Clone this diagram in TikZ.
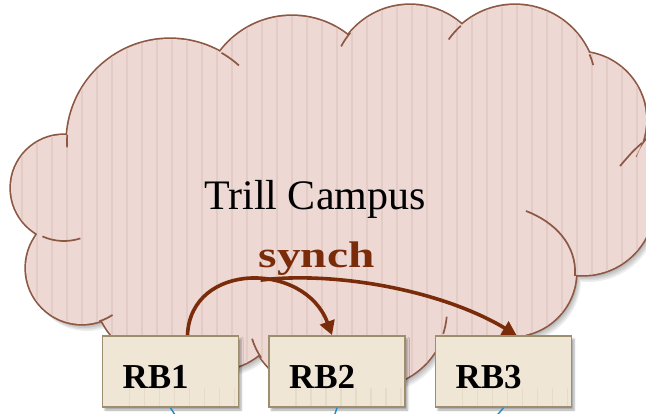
\documentclass[tikz,border=0pt]{standalone}
\usepackage{fontspec}
\setmainfont{Liberation Serif}
\usetikzlibrary{arrows.meta,shadows.blur}

\definecolor{cloudfill}{RGB}{237,216,212}
\definecolor{cloudstripe}{RGB}{227,203,198}
\definecolor{cloudedge}{RGB}{140,88,68}
\definecolor{boxfill}{RGB}{240,230,214}
\definecolor{boxstripe}{RGB}{230,218,200}
\definecolor{boxedge}{RGB}{158,142,112}
\definecolor{synchbrown}{RGB}{122,44,10}
\definecolor{linkblue}{RGB}{27,138,208}

\tikzset{
  % lobes of the campus cloud, plus an inner core that closes the gaps
  cloud lobes/.style={insert path={
    (170,142) circle[radius=103]
    (64,188)  circle[radius=53]
    (82,268)  circle[radius=56]
    (165,290) circle[radius=70]
    (215,300) circle[radius=70]
    (320,318) circle[radius=71]
    (370,310) circle[radius=77]
    (512,272) circle[radius=64]
    (583,204) circle[radius=71]
    (680,170) circle[radius=45]
    (578,120) circle[radius=68]
    (515,86)  circle[radius=81]
    (410,83)  circle[radius=78]
    (292,106) circle[radius=90]
    (95,170) -- (170,80) -- (290,60) -- (410,50) -- (515,55) -- (590,110)
    -- (600,200) -- (545,300) -- (520,345) -- (450,345) -- (420,340)
    -- (400,345) -- (270,345) -- (240,340) -- (125,315) -- (75,260)
    -- (60,200) -- cycle
  }},
  cloud tail/.style={draw=cloudedge, line width=1.7pt},
  rbox/.style={
    blur shadow={shadow xshift=2.5pt, shadow yshift=-3pt,
                 shadow blur radius=2pt, shadow opacity=35},
    fill=boxfill,
    path picture={
      \foreach \sx in {7,22,...,652}
        \draw[boxstripe, line width=1.6pt]
          (\sx,0) -- (\sx,413);
    },
    draw=boxedge, line width=1.8pt,
    minimum height=71pt, text width=96pt, inner xsep=20pt, inner ysep=0pt,
    align=left, text height=33pt, text depth=0pt,
    font=\fontsize{35}{40}\selectfont\bfseries},
  synch arrow/.style={draw=synchbrown, line width=3.6pt,
    -{Triangle[length=14pt,width=15pt]}},
  link/.style={draw=linkblue, line width=1.4pt}
}

\begin{document}
\begin{tikzpicture}[x=1pt,y=-1pt]
\useasboundingbox (0,0) rectangle (646,413);
\clip (0,0) rectangle (646,413);

% soft drop shadow of the cloud
\foreach \dx/\dy in {5/7, 4/5.5, 3/4, 2/2.5}
  \fill[black, opacity=0.07, shift={(\dx,\dy)}, cloud lobes];

% outline first, then the fill hides the inner parts of the strokes
\draw[cloudedge, line width=3.4pt, cloud lobes];
\fill[cloudfill, cloud lobes];
% faint vertical stripes of the cloud texture
\begin{scope}
  \clip[cloud lobes];
  \foreach \sx in {7,22,...,652}
    \draw[cloudstripe, line width=1.6pt] (\sx,0) -- (\sx,413);
\end{scope}

% the short inner arcs where the lobes meet
\draw[cloud tail] ([shift={(170,142)}]-60:103) arc[start angle=-60, end angle=-48, radius=103];
\draw[cloud tail] ([shift={(170,142)}]184:103) arc[start angle=184, end angle=177, radius=103];
\draw[cloud tail] ([shift={(410,83)}]-140:78) arc[start angle=-140, end angle=-152, radius=78];
\draw[cloud tail] ([shift={(515,86)}]-132:81) arc[start angle=-132, end angle=-145, radius=81];
\draw[cloud tail] ([shift={(515,86)}]-23:81) arc[start angle=-23, end angle=-15, radius=81];
\draw[cloud tail] (642,143) .. controls (633,151) .. (620,166);
\draw[cloud tail] (575,276) .. controls (577,245) and (555,222) .. (526,211);
\draw[cloud tail] ([shift={(370,310)}]18:77) arc[start angle=18, end angle=5, radius=77];
\draw[cloud tail] ([shift={(320,318)}]146:71) arc[start angle=146, end angle=163, radius=71];
\draw[cloud tail] ([shift={(82,268)}]72:56) arc[start angle=72, end angle=57, radius=56];
\draw[cloud tail] ([shift={(64,188)}]114:53) arc[start angle=114, end angle=72, radius=53];

% labels
\node[font=\fontsize{42}{48}\selectfont, anchor=base] (campus) at (315,209) {Trill Campus};
\node[text=synchbrown, anchor=base, inner sep=0pt] (synch) at (316.5,267)
  {\fontsize{37}{42}\selectfont\bfseries\scalebox{1.28}[1]{synch}};

% bridges
\node[rbox] (rb1) at (170.5,371.5) {RB1};
\node[rbox] (rb2) at (337,371.5) {RB2};
\node[rbox] (rb3) at (503.5,371.5) {RB3};

% links leaving the bridges downwards
\coordinate (down1) at (179,421);
\coordinate (down2) at (332.5,421);
\coordinate (down3) at (492,421);
\draw[link] (rb1.south) -- (down1);
\draw[link] (rb2.south) -- (down2);
\draw[link] (rb3.south) -- (down3);

% synchronisation arrows
\draw[synch arrow] ([xshift=17pt]rb1.north)
  .. controls +(3,-74) and +(-27,-74) .. ([xshift=-5pt]rb2.north)
  coordinate[pos=0.55] (fork);
\draw[synch arrow] (fork)
  .. controls +(72,-9) and +(-77,-46) .. ([xshift=13pt]rb3.north);
\end{tikzpicture}
\end{document}
